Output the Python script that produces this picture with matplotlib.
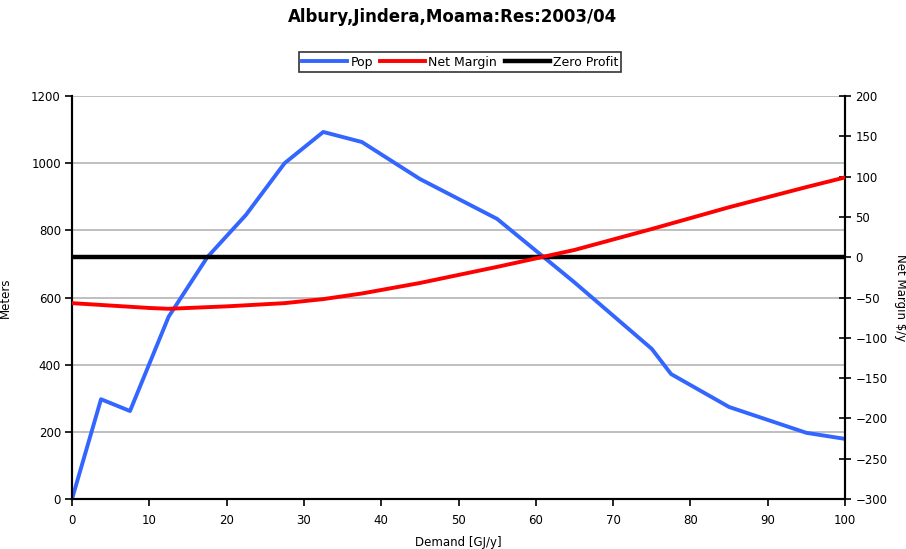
import numpy as np
import matplotlib.pyplot as plt

# data
pop_x = [0, 3.75, 7.5, 12.5, 17.5, 22.5, 27.5, 32.5, 37.5, 45, 55, 65, 75, 77.5, 85, 95, 100]
pop_y = [0, 297, 262, 543, 720, 846, 1000, 1093, 1063, 953, 834, 645, 447, 372, 274, 197, 179]

margin_x = [0, 5, 10, 12.5, 20, 27.5, 32.5, 37.5, 45, 55, 60, 65, 75, 85, 95, 100]
margin_y = [-57, -60, -63, -64, -61, -57, -52, -45, -32, -12, -1.5, 9, 35, 62, 87, 99]

zero_x = [0, 100]
zero_y = [0, 0]

left_ticks = list(range(0, 1201, 200))
right_ticks = list(range(-300, 201, 50))
x_ticks = list(range(0, 101, 10))

plt.rcParams["font.family"] = "DejaVu Sans"
plt.rcParams["font.size"] = 8.5

fig = plt.figure(figsize=(9.06, 5.49), dpi=100)
ax = fig.add_axes([0.0795, 0.0911, 0.8532, 0.734])
ax2 = ax.twinx()

ax.set_xlim(0, 100)
ax.set_ylim(0, 1200)
ax2.set_ylim(-300, 200)

ax.set_yticks(left_ticks)
ax2.set_yticks(right_ticks)
ax.set_xticks(x_ticks)
ax.grid(axis="y", color="#b4b4b4", linewidth=1.2)
ax.set_axisbelow(True)

(l1,) = ax.plot(pop_x, pop_y, color="#3366ff", linewidth=2.8, label="Pop", zorder=3)
(l2,) = ax2.plot(margin_x, margin_y, color="#ff0000", linewidth=2.8, label="Net Margin", zorder=3)
(l3,) = ax2.plot(zero_x, zero_y, color="black", linewidth=3.2, label="Zero Profit", zorder=2)

for a in (ax, ax2):
    a.spines["top"].set_visible(False)
    for s in ("left", "right", "bottom"):
        a.spines[s].set_linewidth(1.5)
ax.tick_params(axis="y", direction="out", length=5, width=1.2, pad=3)
ax.tick_params(axis="x", direction="out", length=5, width=1.2, pad=6)
ax2.tick_params(axis="y", direction="inout", length=9, width=1.2, pad=3)

ax.set_ylabel("Meters", fontsize=8.5, labelpad=14)
ax2.set_ylabel("Net Margin $/y", fontsize=8.5, rotation=270, labelpad=14)
ax.set_xlabel("Demand [GJ/y]", fontsize=8.5, labelpad=6)

fig.suptitle("Albury,Jindera,Moama:Res:2003/04", fontsize=12, fontweight="bold", y=0.985)

leg = fig.legend(handles=[l1, l2, l3], loc="center", bbox_to_anchor=(0.508, 0.887),
                 ncol=3, frameon=True, fancybox=False, fontsize=9,
                 handlelength=3.6, handletextpad=0.25, columnspacing=0.6,
                 borderpad=0.25, borderaxespad=0)
leg.get_frame().set_edgecolor("black")
leg.get_frame().set_linewidth(1.2)

fig.savefig("out.png", dpi=100)
